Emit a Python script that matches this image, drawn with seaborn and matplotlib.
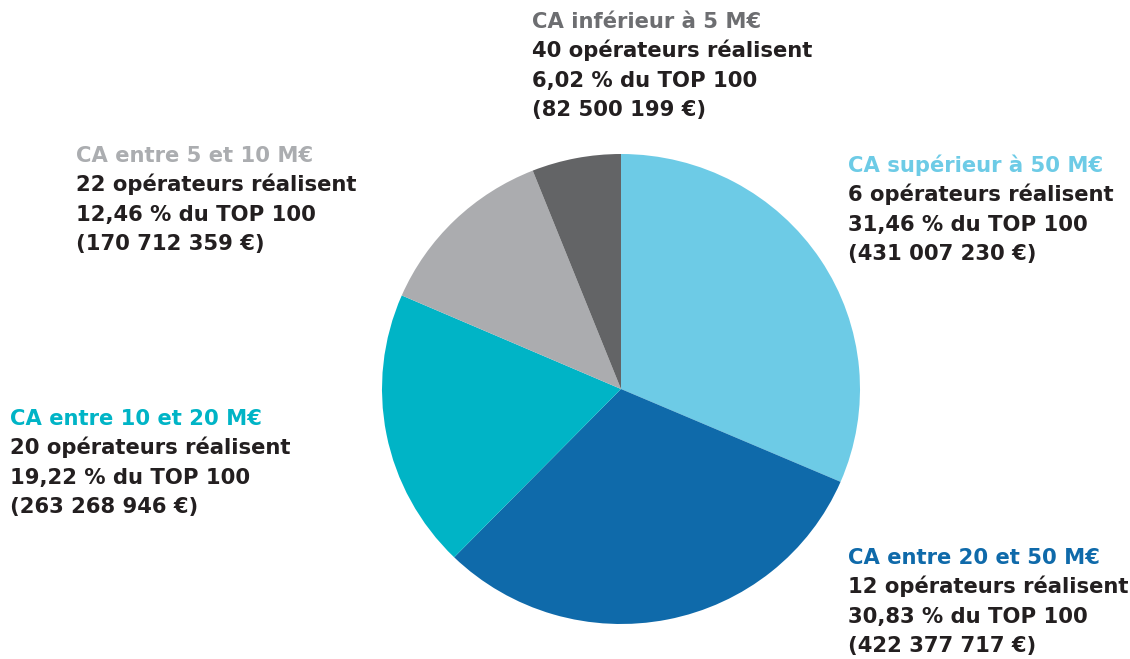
import matplotlib
matplotlib.use("Agg")
import matplotlib.pyplot as plt
import seaborn as sns

sns.set_theme(style="white")
plt.rcParams['font.family'] = ['DejaVu Sans']

# Data
categories = ["CA supérieur à 50 M€", "CA entre 20 et 50 M€", "CA entre 10 et 20 M€",
              "CA entre 5 et 10 M€", "CA inférieur à 5 M€"]
operators = [6, 12, 20, 22, 40]
shares = [31.46, 30.83, 19.22, 12.46, 6.02]
amounts = ["431 007 230", "422 377 717", "263 268 946", "170 712 359", "82 500 199"]
slice_colors = ["#6DCBE6", "#0F6AAA", "#00B4C6", "#ABACAF", "#636466"]
title_colors = ["#6DCBE6", "#0F6AAA", "#00B4C6", "#ABADB0", "#6D6E71"]

W, H = 1130, 659
fig = plt.figure(figsize=(W / 100, H / 100), dpi=100)

# pie axes (pixel geometry)
cx, cy, rx, ry = 621, 389, 239, 235
ax = fig.add_axes([(cx - rx) / W, (H - cy - ry) / H, 2 * rx / W, 2 * ry / H])
ax.pie(shares, colors=slice_colors, startangle=90, counterclock=False,
       wedgeprops=dict(linewidth=0), radius=1)
ax.set_aspect('auto')
ax.set_xlim(-1, 1)
ax.set_ylim(-1, 1)
ax.axis('off')

# label positions: (left x px, first baseline y px)
label_pos = [(848, 172), (848, 564), (10, 425), (76, 162), (532, 28)]
line_gap = 29.3
fs = 15.2
for i, (x, y) in enumerate(label_pos):
    lines = [
        (categories[i], title_colors[i]),
        (f"{operators[i]} opérateurs réalisent", "#231F20"),
        (f"{shares[i]:.2f}".replace(".", ",") + " % du TOP 100", "#231F20"),
        (f"({amounts[i]} €)", "#231F20"),
    ]
    for j, (t, c) in enumerate(lines):
        fig.text(x / W, 1 - (y + j * line_gap) / H, t, color=c, fontsize=fs,
                 fontweight='bold', ha='left', va='baseline')

fig.savefig("out.png", dpi=100)
